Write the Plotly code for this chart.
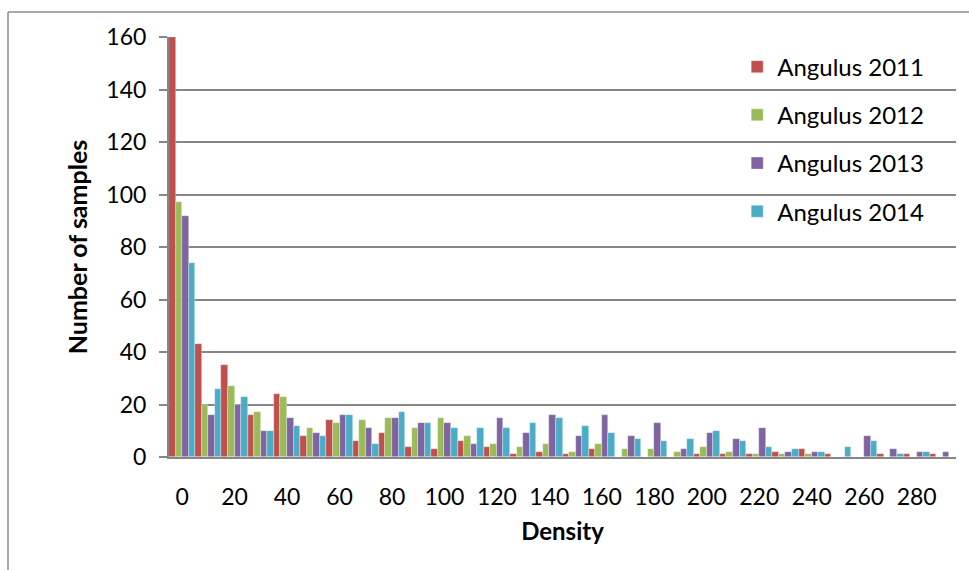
import plotly.graph_objects as go

# Density bins (lower edge of each 10-wide bin)
density_bins = [0, 10, 20, 30, 40, 50, 60, 70, 80, 90, 100, 110, 120, 130, 140,
                150, 160, 170, 180, 190, 200, 210, 220, 230, 240, 250, 260, 270, 280, 290]

# Sample counts per bin for each survey year
angulus_2011 = [160, 43, 35, 16, 24, 8, 14, 6, 9, 4, 3, 6, 4, 1, 2,
                1, 3, 0, 0, 0, 1, 1, 1, 2, 3, 1, 0, 1, 1, 1]
angulus_2012 = [97, 20, 27, 17, 23, 11, 13, 14, 15, 11, 15, 8, 5, 4, 5,
                2, 5, 3, 3, 2, 4, 2, 1, 1, 1, 0, 0, 0, 0, 0]
angulus_2013 = [92, 16, 20, 10, 15, 9, 16, 11, 15, 13, 13, 5, 15, 9, 16,
                8, 16, 8, 13, 3, 9, 7, 11, 2, 2, 0, 8, 3, 2, 2]
angulus_2014 = [74, 26, 23, 10, 12, 8, 16, 5, 17, 13, 11, 11, 11, 13, 15,
                12, 9, 7, 6, 7, 10, 6, 4, 3, 2, 4, 6, 1, 2, 0]

series_names = ["Angulus 2011", "Angulus 2012", "Angulus 2013", "Angulus 2014"]
series_values = [angulus_2011, angulus_2012, angulus_2013, angulus_2014]
series_colors = ["#C0504D", "#9BBB59", "#8064A2", "#4BACC6"]

x_tick_values = [0, 20, 40, 60, 80, 100, 120, 140, 160, 180, 200, 220, 240, 260, 280]
y_tick_values = [0, 20, 40, 60, 80, 100, 120, 140, 160]

FONT = "Lato, 'Open Sans', sans-serif"
GRID = "#868686"

fig = go.Figure()
for name, vals, color in zip(series_names, series_values, series_colors):
    fig.add_trace(go.Bar(
        x=density_bins, y=vals, name=name, legendgroup=name,
        marker=dict(color=color, line=dict(color="rgba(255,255,255,0.55)", width=0.6)),
    ))

fig.update_layout(
    width=969, height=570,
    margin=dict(l=169, r=13, t=37, b=113),
    paper_bgcolor="white", plot_bgcolor="white",
    barmode="group", bargap=0, bargroupgap=0,
    font=dict(family=FONT, size=22, color="black"),
    showlegend=True,
    legend=dict(
        x=0.722, y=0.982, xanchor="left", yanchor="top",
        bgcolor="rgba(0,0,0,0)", traceorder="grouped", tracegroupgap=14,
        font=dict(family=FONT, size=24, color="black"),
        itemwidth=30,
    ),
    xaxis=dict(
        range=[-5, 295], tickmode="array", tickvals=x_tick_values,
        ticktext=[str(v) for v in x_tick_values],
        tickfont=dict(size=23),
        showline=True, linecolor=GRID, linewidth=2,
        showgrid=False, zeroline=False, ticks="",
        ticklabelstandoff=18,
        title=dict(text="<b>Density</b>", standoff=15,
                   font=dict(family=FONT, size=24, color="black")),
    ),
    yaxis=dict(
        range=[0, 160], tickmode="array", tickvals=y_tick_values,
        tickfont=dict(size=23),
        showline=True, linecolor=GRID, linewidth=2,
        showgrid=True, gridcolor=GRID, gridwidth=2,
        zeroline=False, ticks="outside", ticklen=8, tickcolor=GRID, tickwidth=2,
        ticklabelstandoff=8,
        title=dict(text="<b>Number of samples</b>", standoff=12,
                   font=dict(family=FONT, size=25, color="black")),
    ),
    shapes=[
        # chart frame (left and top edges)
        dict(type="line", xref="paper", yref="paper",
             x0=(8 - 169) / 787, x1=(8 - 169) / 787,
             y0=(457 - 570) / 420 - 0.05, y1=(457 - 12) / 420,
             line=dict(color="#8C8C8C", width=1.5)),
        dict(type="line", xref="paper", yref="paper",
             x0=(8 - 169) / 787, x1=(969 - 169) / 787 + 0.05,
             y0=(457 - 12) / 420, y1=(457 - 12) / 420,
             line=dict(color="#8C8C8C", width=1.5)),
    ],
)

fig.write_html("out.html")
